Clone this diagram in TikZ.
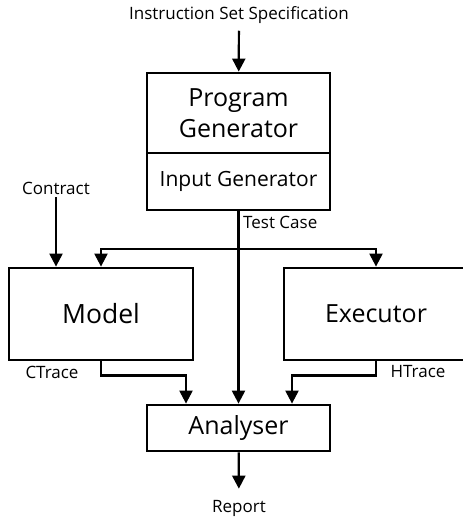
\documentclass[tikz,border=0pt]{standalone}
\usepackage{fontspec}
\setmainfont{Open Sans}
\usepackage{tikz}
\usetikzlibrary{calc,positioning,arrows.meta}
\tikzset{
  fzbox/.style={rectangle, draw=black, line width=2.8pt, inner sep=0pt,
                minimum width=183pt, font=\fontsize{25}{31}\selectfont, align=center},
  fzlab/.style={inner sep=0pt, font=\fontsize{17}{20}\selectfont},
  fzw/.style={line width=2.2pt},
  fzarr/.style={fzw, -{Triangle[width=13pt,length=13pt]}}
}
\begin{document}
\begin{tikzpicture}[x=1pt,y=-1pt]
  \useasboundingbox (0,0) rectangle (463,520);
  % generator stack
  \node[fzbox, minimum height=80pt] (pgen) at (238.5,113) {Program\\Generator};
  \node[fzbox, minimum height=57pt, font=\fontsize{21}{24}\selectfont] (igen) at (238.5,181.5) {Input Generator};
  \node[fzbox, minimum width=184pt, minimum height=92pt, font=\fontsize{26.5}{30}\selectfont] (model) at (101,314) {Model};
  \node[fzbox, minimum width=184pt, minimum height=92pt] (exec) at (376,314) {Executor};
  \node[fzbox, minimum height=46pt] (ana) at (238.5,428) {Analyser};
  % labels
  \node[fzlab] (spec) at (239,15) {Instruction Set Specification};
  \node[fzlab] (contract) at (56,188) {Contract};
  \node[fzlab, anchor=west] (tcase) at (243,222) {Test Case};
  \node[fzlab] (ctrace) at (52,372) {CTrace};
  \node[fzlab] (htrace) at (418,372) {HTrace};
  \node[fzlab] (report) at (239,508) {Report};
  \coordinate (split) at (238.5,249);
  % connectors
  \draw[fzarr, shorten <=7pt] (spec) -- (pgen);
  \draw[fzarr, shorten <=3pt] (contract) -- (contract |- model.north);
  \draw[fzarr] (igen) -- (ana);
  \draw[fzarr] (split) -| (model.north);
  \draw[fzarr] (split) -| (exec.north);
  \draw[fzarr] (model.south) -- ++(0,14) -| ([xshift=-52.5pt]ana.north);
  \draw[fzarr] (exec.south) -- ++(0,14) -| ([xshift=53.5pt]ana.north);
  \draw[fzarr, shorten >=11pt] (ana) -- (report);
\end{tikzpicture}
\end{document}
